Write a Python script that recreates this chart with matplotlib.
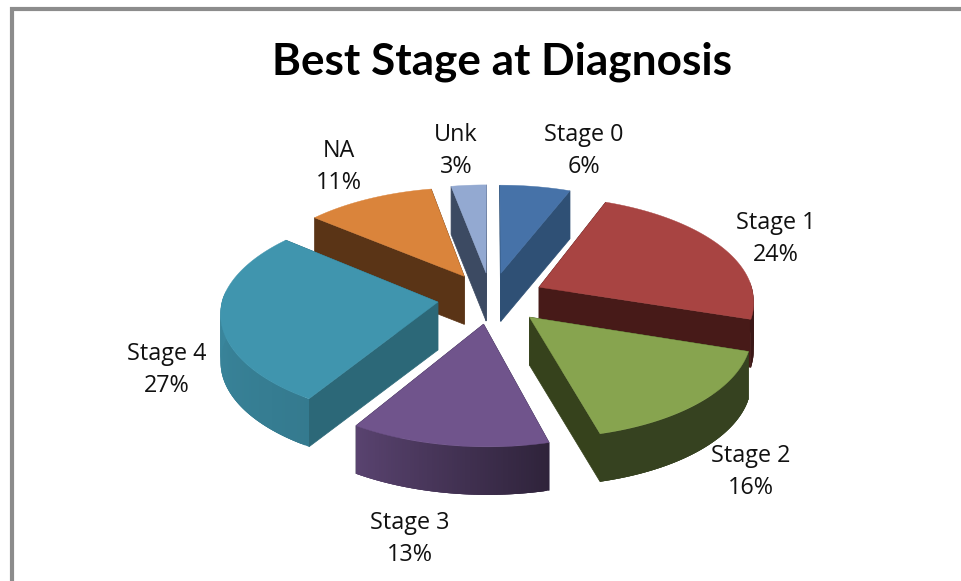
import numpy as np
import matplotlib
matplotlib.use("Agg")
import matplotlib.pyplot as plt
from matplotlib.colors import to_rgb
from matplotlib.patches import Polygon

categories = ["Stage 0", "Stage 1", "Stage 2", "Stage 3", "Stage 4", "NA", "Unk"]
percents = [6, 24, 16, 13, 27, 11, 3]
top_colors = ["#4672A8", "#A84442", "#87A44F", "#70548C", "#4095AE", "#DA843B", "#93A9D1"]
face_colors = ["#2F5075", "#471A18", "#36421C", "#2F2545", "#2C6878", "#5A3416", "#3C4A62"]
# brightness of the outer wall at the start and end of each slice's arc
wall_start = [0.6, 0.35, 0.40, 0.42, 0.82, 0.6, 0.6]
wall_end = [0.6, 0.35, 0.40, 0.80, 0.95, 0.6, 0.6]
label_pos = [(584, 151), (776, 239), (751, 472), (410, 539), (167, 370), (339, 167), (456, 151)]

# projection of the tilted pie, in pixels of the image
CX, CY = 491, 298
SX, SY = 215, 103
SHEAR = 5
PERSP = 0.11
EXPLODE = 0.25
DEPTH = 48


def project(X, Y, down=False):
    s = 1 / (1 - PERSP * Y)
    x = CX + SX * X * s + SHEAR * np.maximum(Y, 0)
    y = CY + SY * Y * s
    if down:
        y = y + DEPTH
    return x, y


fig = plt.figure(figsize=(9.61, 5.81), dpi=100)
ax = fig.add_axes([0, 0, 1, 1])
ax.set_xlim(0, 961)
ax.set_ylim(581, 0)
ax.axis("off")

# chart frame
ax.plot([12, 12, 961], [581, 9, 9], color="#8C8C8C", lw=3, solid_joinstyle="miter")

fractions = np.array(percents) / sum(percents)
starts = np.concatenate([[0], np.cumsum(fractions)[:-1]]) * 2 * np.pi
ends = starts + fractions * 2 * np.pi
mids = (starts + ends) / 2

# back slices first so the front ones go on top
order = np.argsort(-np.cos(mids))
for i in order:
    ox = EXPLODE * np.sin(mids[i])
    oy = -EXPLODE * np.cos(mids[i])
    th = np.linspace(starts[i], ends[i], 80)
    X = ox + np.sin(th)
    Y = oy - np.cos(th)

    # flat cut faces
    for k in [0, -1]:
        xs, ys = project(np.array([ox, X[k]]), np.array([oy, Y[k]]))
        xb2, yb2 = project(np.array([X[k], ox]), np.array([Y[k], oy]), down=True)
        pts = np.column_stack([np.r_[xs, xb2], np.r_[ys, yb2]])
        ax.add_patch(Polygon(pts, fc=face_colors[i], ec=face_colors[i], lw=0.5))

    # rounded outer wall, quads overlap so no seams show
    xt, yt = project(X, Y)
    xb, yb = project(X, Y, down=True)
    base = np.array(to_rgb(top_colors[i]))
    shades = np.linspace(wall_start[i], wall_end[i], len(th))
    for j in range(len(th) - 1):
        if np.cos(th[j]) > 0.05:
            continue
        col = np.clip(base * shades[j], 0, 1)
        k = min(j + 3, len(th) - 1)
        pts = [(xt[j], yt[j]), (xt[k], yt[k]), (xb[k], yb[k]), (xb[j], yb[j])]
        ax.add_patch(Polygon(pts, fc=col, ec="none"))

    # top surface
    xs, ys = project(np.r_[ox, X], np.r_[oy, Y])
    ax.add_patch(Polygon(np.column_stack([xs, ys]), fc=top_colors[i], ec=top_colors[i], lw=0.3))

ax.text(502, 62, "Best Stage at Diagnosis", family="Lato", weight="bold", fontsize=31.8,
        ha="center", va="center", color="black")

for name, pct, (lx, ly) in zip(categories, percents, label_pos):
    ax.text(lx, ly, f"{name}\n{pct}%", family="Open Sans", fontsize=16.8, ha="center", va="center",
            color="#111111", linespacing=1.45)

fig.savefig("out.png", dpi=100, facecolor="white")
